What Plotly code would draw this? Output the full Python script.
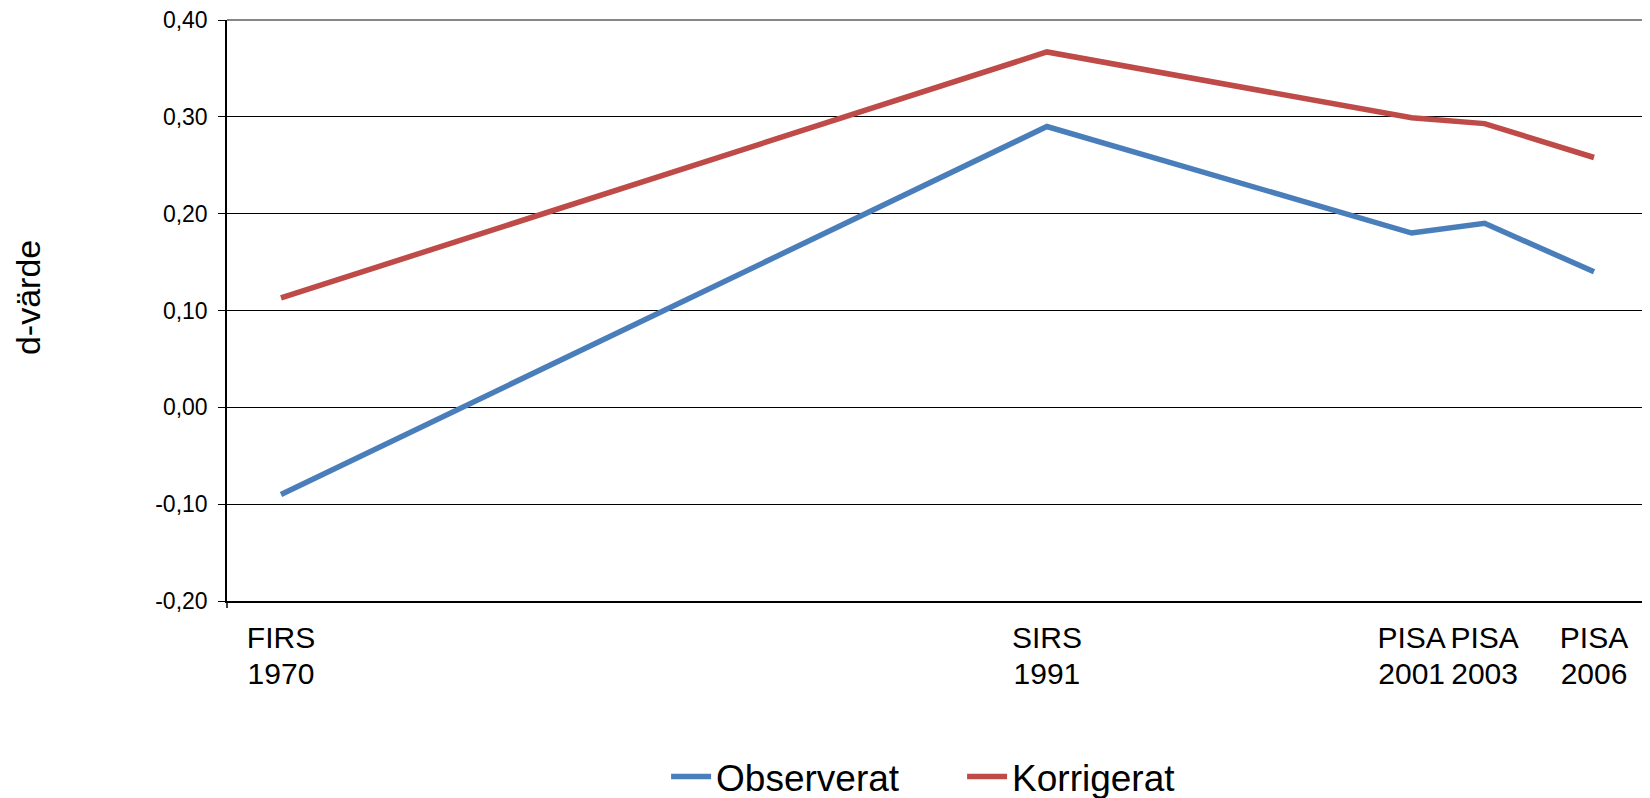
import plotly.graph_objects as go

# data
years = [1970, 1991, 2001, 2003, 2006]
surveys = ["FIRS", "SIRS", "PISA", "PISA", "PISA"]
year_labels = ["1970", "1991", "2001", "2003", "2006"]
observerat = [-0.09, 0.29, 0.18, 0.19, 0.14]
korrigerat = [0.113, 0.367, 0.299, 0.293, 0.258]
y_ticks = [-0.2, -0.1, 0.0, 0.1, 0.2, 0.3, 0.4]
y_tick_labels = ["-0,20", "-0,10", "0,00", "0,10", "0,20", "0,30", "0,40"]

FONT = "Liberation Sans, Arial, sans-serif"
BORDER = "#868686"
tick_font = dict(size=30, color="black", family=FONT)

fig = go.Figure([
    go.Scatter(x=years, y=observerat, name="Observerat", mode="lines",
               line=dict(color="#4A7EBB", width=5.5)),
    # second trace sits on the twin x axis that carries the year labels
    go.Scatter(x=years, y=korrigerat, name="Korrigerat", mode="lines", xaxis="x2",
               line=dict(color="#BE4B48", width=5.5)),
])

fig.update_layout(
    xaxis=dict(
        range=[1968.52, 2007.48],
        tickvals=years, ticktext=surveys, tickangle=0, tickfont=tick_font,
        showgrid=False, zeroline=False, automargin=False,
        showline=True, linecolor="black", linewidth=1.5,
        ticks="", ticklabelstandoff=9,
    ),
    xaxis2=dict(
        overlaying="x", side="bottom", anchor="y", matches="x",
        tickvals=years, ticktext=year_labels, tickangle=0, tickfont=tick_font,
        showgrid=False, zeroline=False, automargin=False, showline=False,
        ticks="", ticklabelstandoff=52,
    ),
    yaxis=dict(
        range=[-0.2, 0.4],
        tickvals=y_ticks, ticktext=y_tick_labels,
        tickfont=dict(size=23, color="black", family=FONT),
        ticklabeloverflow="allow",
        showgrid=True, gridcolor="black", gridwidth=1,
        zeroline=False, automargin=False,
        showline=True, linecolor="black", linewidth=1.5,
        ticks="outside", ticklen=7, tickcolor="black", tickwidth=1,
        ticklabelstandoff=6,
    ),
)

# the page body adds an 8px margin, so the figure is 8px smaller
fig.update_layout(
    width=1642, height=790,
    margin=dict(l=219, r=2, t=12, b=197, autoexpand=False),
    plot_bgcolor="white", paper_bgcolor="white",
    showlegend=True,
    legend=dict(orientation="h", x=0.309, xanchor="left", y=-0.303, yanchor="middle",
                font=dict(size=37, color="black", family=FONT),
                itemwidth=40, entrywidth=241, traceorder="normal"),
    annotations=[dict(text="d-värde", textangle=-90, showarrow=False,
                      xref="paper", yref="paper", x=-0.140, y=0.5215,
                      xanchor="center", yanchor="middle",
                      font=dict(size=34, color="black", family=FONT))],
    shapes=[
        # grey frame on the top and right edges of the plot area
        dict(type="line", xref="paper", yref="paper", x0=0, y0=1, x1=1, y1=1,
             line=dict(color=BORDER, width=2), layer="above"),
        dict(type="line", xref="paper", yref="paper", x0=1, y0=0, x1=1, y1=1,
             line=dict(color=BORDER, width=2), layer="above"),
        # small tick below the axis corner
        dict(type="line", xref="paper", yref="paper", ysizemode="pixel", yanchor=0,
             x0=0, x1=0, y0=0, y1=-7, line=dict(color="black", width=1.5)),
    ],
)

fig.write_html("out.html")
